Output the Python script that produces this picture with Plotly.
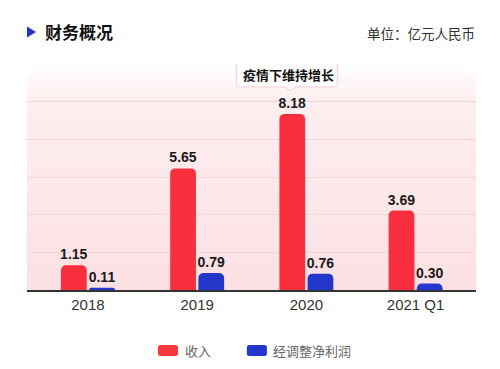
import base64
import plotly.graph_objects as go

categories = ["2018", "2019", "2020", "2021 Q1"]
revenue = [1.15, 5.65, 8.18, 3.69]
adj_net_profit = [0.11, 0.79, 0.76, 0.30]
series_names = ["收入", "经调整净利润"]
grid_vals = [1.75, 3.5, 5.25, 7.0, 8.75]
callout_text = "疫情下维持增长"
title_text = "财务概况"
unit_text = "单位：亿元人民币"

RED = "#f92f3e"
BLUE = "#2337cb"
CJK = "Noto Sans CJK SC"
NUM = "Arial"

idx = list(range(len(categories)))
W = 0.236
RED_OFF = -0.247
BLUE_OFF = 0.011

fig = go.Figure()
fig.add_trace(go.Bar(
    x=idx, y=revenue, name=series_names[0], width=W, offset=RED_OFF,
    marker=dict(color=RED, cornerradius=5, line=dict(width=0)),
    text=[f"{v:.2f}" for v in revenue], textposition="outside",
    textfont=dict(family=NUM, size=14, color="#1a1a1a", weight="bold"),
    constraintext="none", cliponaxis=False, showlegend=False, hoverinfo="skip",
))
fig.add_trace(go.Bar(
    x=idx, y=adj_net_profit, name=series_names[1], width=W, offset=BLUE_OFF,
    marker=dict(color=BLUE, cornerradius=5, line=dict(width=0)),
    text=[f"{v:.2f}" for v in adj_net_profit], textposition="outside",
    textfont=dict(family=NUM, size=14, color="#1a1a1a", weight="bold"),
    constraintext="none", cliponaxis=False, showlegend=False, hoverinfo="skip",
))

# gradient background as an SVG image
svg = (
    '<svg xmlns="http://www.w3.org/2000/svg" width="100" height="100" preserveAspectRatio="none">'
    '<defs><linearGradient id="g" x1="0" y1="0" x2="0" y2="1">'
    '<stop offset="0" stop-color="#fce0e3" stop-opacity="0"/>'
    '<stop offset="0.17" stop-color="#fce0e3" stop-opacity="0.55"/>'
    '<stop offset="1" stop-color="#fce0e3" stop-opacity="1"/>'
    '</linearGradient></defs>'
    '<rect x="0" y="0" width="100" height="100" fill="url(#g)"/></svg>'
)
svg_uri = "data:image/svg+xml;base64," + base64.b64encode(svg.encode()).decode()
images = [dict(source=svg_uri, xref="paper", yref="paper", x=0, y=1, sizex=1, sizey=1,
               xanchor="left", yanchor="top", sizing="stretch", layer="below")]

shapes = []
# callout box with pointer
L, R, B, T, r, px, pw, tip = -56, 45, 27, 52, 4, -2, 5, 23
path = (f"M{L+r},{B} L{px-pw},{B} L{px},{tip} L{px+pw},{B} L{R-r},{B} Q{R},{B} {R},{B+r} "
        f"L{R},{T-r} Q{R},{T} {R-r},{T} L{L+r},{T} Q{L},{T} {L},{T-r} L{L},{B+r} Q{L},{B} {L+r},{B} Z")
anchor_x = 2 + RED_OFF + W / 2
shapes.append(dict(type="path", xref="x", yref="y", xsizemode="pixel", ysizemode="pixel",
                   xanchor=anchor_x, yanchor=revenue[2], path=path,
                   fillcolor="white", line=dict(color="#f2cdd1", width=1)))

# title triangle
shapes.append(dict(type="path", xref="paper", yref="paper", xsizemode="pixel", ysizemode="pixel",
                   xanchor=0, yanchor=1, path="M0,37.5 L9,32 L0,26.5 Z",
                   fillcolor="#2233cc", line=dict(width=0)))

# legend swatches
def swatch(xc_paper, color):
    w, h, rr = 10, 5.5, 2.5
    p = (f"M{-w+rr},{-h} L{w-rr},{-h} Q{w},{-h} {w},{-h+rr} L{w},{h-rr} Q{w},{h} {w-rr},{h} "
         f"L{-w+rr},{h} Q{-w},{h} {-w},{h-rr} L{-w},{-h+rr} Q{-w},{-h} {-w+rr},{-h} Z")
    return dict(type="path", xref="paper", yref="paper", xsizemode="pixel", ysizemode="pixel",
                xanchor=xc_paper, yanchor=-0.268, path=p, fillcolor=color, line=dict(width=0))

shapes.append(swatch(0.314, "#f7383f"))
shapes.append(swatch(0.512, BLUE))

annotations = [
    dict(x=anchor_x, y=revenue[2], xref="x", yref="y", xshift=-4, yshift=39.5,
         text=f"<b>{callout_text}</b>", showarrow=False,
         font=dict(family=CJK, size=13, color="#111")),
    dict(x=0.0356, y=1.1416, xref="paper", yref="paper", xanchor="left", yanchor="middle",
         text=f"<b>{title_text}</b>", showarrow=False,
         font=dict(family=CJK, size=17, color="#111")),
    dict(x=1.002, y=1.137, xref="paper", yref="paper", xanchor="right", yanchor="middle",
         text=unit_text, showarrow=False, font=dict(family=CJK, size=13.5, color="#333")),
    dict(x=0.347, y=-0.268, xref="paper", yref="paper", xanchor="left", yanchor="middle",
         text=series_names[0], showarrow=False, font=dict(family=CJK, size=13, color="#666")),
    dict(x=0.543, y=-0.268, xref="paper", yref="paper", xanchor="left", yanchor="middle",
         text=series_names[1], showarrow=False, font=dict(family=CJK, size=13, color="#666")),
]

fig.update_layout(
    width=500, height=369,
    margin=dict(l=27, r=24, t=64, b=79),
    paper_bgcolor="white", plot_bgcolor="rgba(0,0,0,0)",
    barmode="overlay", hovermode=False,
    shapes=shapes, annotations=annotations, images=images,
    font=dict(family=CJK),
    xaxis=dict(range=[-0.558, 3.553], tickvals=idx, ticktext=categories,
               showline=True, linecolor="#333", linewidth=1.5, showgrid=False, zeroline=False,
               ticks="", tickfont=dict(family=NUM, size=15, color="#333"), fixedrange=True),
    yaxis=dict(range=[0, 10.5], tickvals=grid_vals, showticklabels=False, showgrid=True,
               gridcolor="#f5d3d7", gridwidth=1, zeroline=False, showline=False, fixedrange=True),
)

fig.write_html("out.html", config={"displayModeBar": False},
               post_script="document.body.style.margin='0';document.body.style.padding='0';")
